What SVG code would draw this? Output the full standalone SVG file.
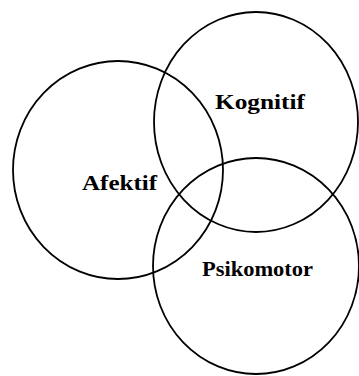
<svg xmlns="http://www.w3.org/2000/svg" width="359" height="376" viewBox="0 0 359 376">
<style>
.c{fill:none;stroke:#000;stroke-width:1.8}
.t{font-family:"Liberation Serif","Times New Roman",serif;font-weight:bold;font-size:21px;fill:#000}
</style>
<rect width="359" height="376" fill="#fff"/>
<g id="kognitif">
<ellipse class="c" cx="256" cy="122" rx="102" ry="110"/>
<text class="t" x="215" y="109" textLength="90" lengthAdjust="spacingAndGlyphs">Kognitif</text>
</g>
<g id="afektif">
<ellipse class="c" cx="118" cy="170" rx="105" ry="109"/>
<text class="t" x="82" y="190" textLength="75" lengthAdjust="spacingAndGlyphs">Afektif</text>
</g>
<g id="psikomotor">
<ellipse class="c" cx="256" cy="266" rx="103" ry="108"/>
<text class="t" x="202" y="276" textLength="111" lengthAdjust="spacingAndGlyphs">Psikomotor</text>
</g>
<g id="connectors"/>
</svg>
